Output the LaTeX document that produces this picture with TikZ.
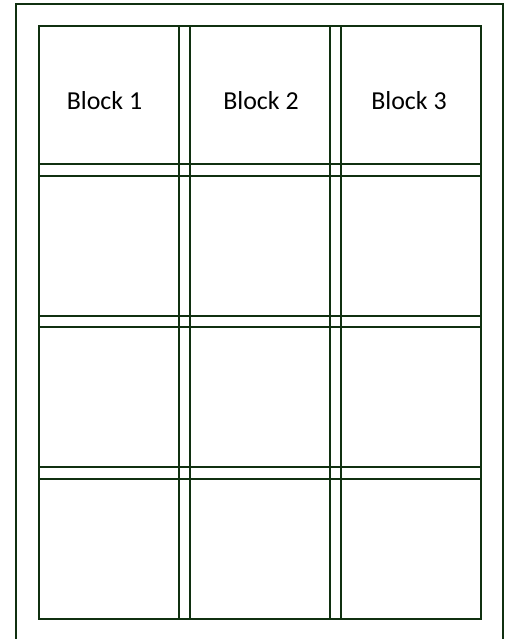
\documentclass[tikz,border=0pt]{standalone}
\usepackage{fontspec}
\setmainfont{Carlito}
\definecolor{gridgreen}{RGB}{16,48,16}
\begin{document}
\begin{tikzpicture}[x=1bp,y=-1bp,
  gridline/.style={draw=gridgreen,line width=2.6bp},
  blocklabel/.style={font=\fontsize{26}{30}\selectfont,text=black,inner sep=0pt}]
\useasboundingbox (0,0) rectangle (507,639);
\begin{scope}
\clip (0,0) rectangle (507,639);
\draw[gridline] (16,4) rectangle (503,660);
\end{scope}
% inner frame
\draw[gridline] (39,26) rectangle (481,619);
% vertical double lines
\foreach \x in {179,190,330,341}
  \draw[gridline] (\x,26) -- (\x,619);
% horizontal double lines
\foreach \y in {164,176,316,327,467,479}
  \draw[gridline] (39,\y) -- (481,\y);
\node[blocklabel] (b1) at (104.5,101) {Block 1};
\node[blocklabel] (b2) at (261,101) {Block 2};
\node[blocklabel] (b3) at (409,101) {Block 3};
\end{tikzpicture}
\end{document}
